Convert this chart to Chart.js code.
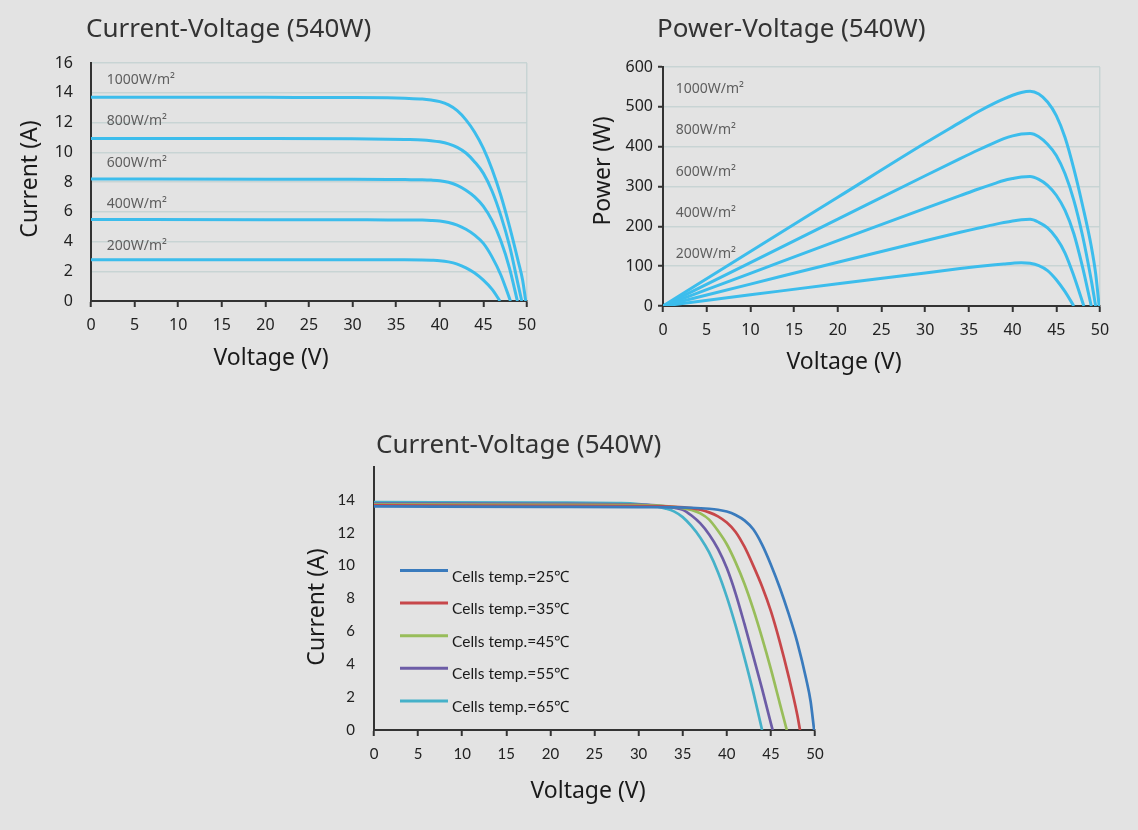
<!DOCTYPE html>
<html>
<head>
<meta charset="utf-8">
<title>540W module curves</title>
<script src="https://cdn.jsdelivr.net/npm/chart.js@4.4.1/dist/chart.umd.min.js"></script>
<style>
  html, body { margin: 0; padding: 0; background: #e3e3e3; }
  body { width: 1138px; height: 830px; position: relative; overflow: hidden; }
  canvas { position: absolute; }
  #ivChart { left: 0; top: 0; }
  #pvChart { left: 565px; top: 0; }
  #tempChart { left: 280px; top: 410px; }
</style>
</head>
<body>
<canvas id="ivChart" width="565" height="390"></canvas>
<canvas id="pvChart" width="573" height="390"></canvas>
<canvas id="tempChart" width="580" height="420"></canvas>
<script>
// irradiance labels shared by the two top charts
const irradianceLabels = ['1000W/m²', '800W/m²', '600W/m²', '400W/m²', '200W/m²'];

// Current-Voltage by irradiance
const ivVolt1000 = [0, 20, 30, 34, 36, 38, 39, 40, 41, 42, 43, 44, 45, 46, 47, 48, 49, 49.5, 49.85];
const ivAmp1000  = [13.7, 13.69, 13.68, 13.66, 13.63, 13.58, 13.51, 13.4, 13.18, 12.8, 12.18, 11.35, 10.26, 8.84, 7.09, 5.0, 2.65, 1.4, 0];
const ivVolt800  = [0, 20, 30, 34, 36, 38, 39, 40, 41, 42, 43, 44, 45, 46, 47, 48, 49, 49.4];
const ivAmp800   = [10.93, 10.92, 10.9, 10.88, 10.86, 10.83, 10.78, 10.7, 10.56, 10.33, 9.95, 9.35, 8.58, 7.38, 5.74, 3.7, 1.05, 0];
const ivVolt600  = [0, 20, 30, 34, 36, 38, 39, 40, 41, 42, 43, 44, 45, 46, 47, 48, 48.9];
const ivAmp600   = [8.2, 8.19, 8.18, 8.17, 8.16, 8.15, 8.13, 8.09, 7.98, 7.78, 7.45, 7.0, 6.36, 5.4, 4.05, 2.2, 0];
const ivVolt400  = [0, 20, 30, 34, 36, 38, 39, 40, 41, 42, 43, 44, 45, 46, 47, 48.1];
const ivAmp400   = [5.48, 5.47, 5.46, 5.45, 5.45, 5.44, 5.42, 5.38, 5.28, 5.1, 4.82, 4.43, 3.87, 2.95, 1.75, 0];
const ivVolt200  = [0, 20, 30, 34, 36, 38, 39, 40, 41, 42, 43, 44, 45, 46, 46.9];
const ivAmp200   = [2.78, 2.78, 2.77, 2.77, 2.77, 2.76, 2.74, 2.71, 2.63, 2.48, 2.23, 1.88, 1.4, 0.78, 0];
const ivLabelAmps = [14.86, 12.1, 9.3, 6.52, 3.72];

// Power-Voltage by irradiance
const pvVolt1000 = [0, 10, 20, 30, 34, 36, 38, 39, 40, 41, 42, 43, 44, 45, 46, 47, 48, 49, 49.5, 49.9];
const pvWatt1000 = [0, 137, 273, 409, 461, 487, 510, 520, 529, 536, 539, 532, 512, 478, 423, 345, 253, 150, 82, 0];
const pvVolt800  = [0, 10, 20, 30, 34, 36, 38, 39, 40, 41, 42, 43, 44, 45, 46, 47, 48, 49, 49.5];
const pvWatt800  = [0, 109, 218, 327, 370, 391, 411, 420, 427, 432, 433, 425, 406, 378, 332, 266, 177, 65, 0];
const pvVolt600  = [0, 10, 20, 30, 34, 36, 38, 39, 40, 41, 42, 43, 44, 45, 46, 47, 48, 49];
const pvWatt600  = [0, 82, 164, 245, 277, 293, 308, 315, 320, 324, 325, 318, 303, 278, 240, 182, 98, 0];
const pvVolt400  = [0, 10, 20, 30, 34, 36, 38, 39, 40, 41, 42, 43, 44, 45, 46, 47, 48.15];
const pvWatt400  = [0, 55, 110, 164, 185, 195, 205, 209.5, 213.5, 216.5, 217.5, 210, 196, 171, 133, 76, 0];
const pvVolt200  = [0, 10, 20, 30, 34, 36, 38, 39, 40, 41, 42, 43, 44, 45, 46, 47];
const pvWatt200  = [0, 28, 56, 83, 94, 99, 103.5, 105.5, 107.5, 108.8, 107.5, 101.5, 89, 66, 36, 0];
const pvLabelWatts = [545, 442, 337, 234, 130];

// Current-Voltage by cell temperature
const tempLabels = ['Cells temp.=25℃', 'Cells temp.=35℃', 'Cells temp.=45℃', 'Cells temp.=55℃', 'Cells temp.=65℃'];
const tVolt25 = [0, 20, 30, 36, 38, 39, 40, 41, 42, 43, 44, 45, 46, 47, 48, 49, 49.5, 49.9];
const tAmp25  = [13.6, 13.58, 13.56, 13.52, 13.46, 13.4, 13.29, 13.08, 12.75, 12.21, 11.28, 10.06, 8.67, 7.09, 5.32, 3.1, 1.75, 0];
const tVolt35 = [0, 20, 30, 34, 36, 37, 38, 39, 40, 41, 42, 43, 44, 45, 46, 47, 48, 48.3];
const tAmp35  = [13.66, 13.64, 13.62, 13.58, 13.5, 13.4, 13.24, 13.0, 12.62, 12.05, 11.15, 10.0, 8.73, 7.23, 5.38, 3.28, 0.9, 0];
const tVolt45 = [0, 20, 30, 33, 35, 36, 37, 38, 39, 40, 41, 42, 43, 44, 45, 46, 46.8];
const tAmp45  = [13.72, 13.7, 13.68, 13.62, 13.5, 13.39, 13.18, 12.8, 12.12, 11.3, 10.2, 8.9, 7.35, 5.6, 3.7, 1.64, 0];
const tVolt55 = [0, 20, 30, 32, 33, 34, 35, 36, 37, 38, 39, 40, 41, 42, 43, 44, 45, 45.2];
const tAmp55  = [13.78, 13.76, 13.72, 13.66, 13.6, 13.52, 13.4, 13.05, 12.57, 11.9, 11.02, 9.85, 8.3, 6.45, 4.5, 2.5, 0.4, 0];
const tVolt65 = [0, 20, 28, 30, 31, 32, 33, 34, 35, 36, 37, 38, 39, 40, 41, 42, 43, 44];
const tAmp65  = [13.86, 13.84, 13.8, 13.75, 13.7, 13.6, 13.48, 13.3, 12.95, 12.4, 11.7, 10.8, 9.6, 8.1, 6.35, 4.4, 2.3, 0];
const tempColors = ['#3a7bbd', '#c7474a', '#98bd5a', '#6c5ca6', '#45b1c9'];

const SKY = '#3cbdec';
const GRID = 'rgba(196,209,209,0.9)';
const AXIS = '#333';

const pts = (xs, ys) => xs.map((x, i) => ({ x: x, y: ys[i] }));

function curve(label, xs, ys, color, width) {
  return {
    label: label,
    data: pts(xs, ys),
    showLine: true,
    borderColor: color,
    backgroundColor: color,
    borderWidth: width,
    pointRadius: 0,
    cubicInterpolationMode: 'monotone'
  };
}

// fixed text: titles and axis titles
function textPlugin(items) {
  return {
    id: 'fixedText',
    afterDraw(chart) {
      const ctx = chart.ctx;
      items.forEach(t => {
        ctx.save();
        ctx.font = t.font;
        ctx.fillStyle = t.color;
        ctx.textAlign = t.align || 'center';
        ctx.textBaseline = 'middle';
        ctx.translate(t.x, t.y);
        if (t.rotate) ctx.rotate(t.rotate);
        ctx.fillText(t.text, 0, 0);
        ctx.restore();
      });
    }
  };
}

// irradiance labels placed in data coordinates
function curveLabels(labels, xVal, yVals) {
  return {
    id: 'curveLabels',
    afterDatasetsDraw(chart) {
      const { ctx, scales } = chart;
      ctx.save();
      ctx.font = '14px "Noto Sans"';
      ctx.fillStyle = '#5e5e5e';
      ctx.textAlign = 'left';
      ctx.textBaseline = 'middle';
      labels.forEach((l, i) => {
        ctx.fillText(l, scales.x.getPixelForValue(xVal), scales.y.getPixelForValue(yVals[i]));
      });
      ctx.restore();
    }
  };
}

function xScale(height, tickFont, withEdge) {
  return {
    type: 'linear', min: 0, max: 50,
    ticks: { stepSize: 5, font: tickFont, color: '#222', padding: 9, maxRotation: 0 },
    grid: {
      color: c => (withEdge && c.tick && c.tick.value === 50) ? GRID : 'transparent',
      lineWidth: 1.5, tickColor: AXIS, tickLength: 6, tickWidth: 2
    },
    border: { color: AXIS, width: 2 },
    afterFit: s => { s.height = height; }
  };
}

const titleFont = '26px "Noto Sans"';
const axisTitleFont = '23px "Noto Sans"';
const topTick = { family: 'Noto Sans', size: 16 };

new Chart(document.getElementById('ivChart'), {
  type: 'scatter',
  data: {
    datasets: [
      curve(irradianceLabels[0], ivVolt1000, ivAmp1000, SKY, 3),
      curve(irradianceLabels[1], ivVolt800, ivAmp800, SKY, 3),
      curve(irradianceLabels[2], ivVolt600, ivAmp600, SKY, 3),
      curve(irradianceLabels[3], ivVolt400, ivAmp400, SKY, 3),
      curve(irradianceLabels[4], ivVolt200, ivAmp200, SKY, 3)
    ]
  },
  options: {
    responsive: false,
    animation: false,
    layout: { padding: { left: 0, top: 63, right: 38, bottom: 0 } },
    plugins: { legend: { display: false }, tooltip: { enabled: false } },
    scales: {
      x: xScale(89, topTick, true),
      y: {
        min: 0, max: 16,
        ticks: { stepSize: 2, font: topTick, color: '#222', padding: 18 },
        grid: { color: c => c.tick && c.tick.value === 0 ? 'transparent' : GRID, lineWidth: 1.5, drawTicks: false },
        border: { color: AXIS, width: 2 },
        afterFit: s => { s.width = 91; }
      }
    }
  },
  plugins: [
    curveLabels(irradianceLabels, 1.8, ivLabelAmps),
    textPlugin([
      { text: 'Current-Voltage (540W)', x: 86, y: 30, font: titleFont, color: '#333', align: 'left' },
      { text: 'Current (A)', x: 30, y: 179, font: axisTitleFont, color: '#1a1a1a', rotate: -Math.PI / 2 },
      { text: 'Voltage (V)', x: 271, y: 358, font: axisTitleFont, color: '#1a1a1a' }
    ])
  ]
});

new Chart(document.getElementById('pvChart'), {
  type: 'scatter',
  data: {
    datasets: [
      curve(irradianceLabels[0], pvVolt1000, pvWatt1000, SKY, 3),
      curve(irradianceLabels[1], pvVolt800, pvWatt800, SKY, 3),
      curve(irradianceLabels[2], pvVolt600, pvWatt600, SKY, 3),
      curve(irradianceLabels[3], pvVolt400, pvWatt400, SKY, 3),
      curve(irradianceLabels[4], pvVolt200, pvWatt200, SKY, 3)
    ]
  },
  options: {
    responsive: false,
    animation: false,
    layout: { padding: { left: 0, top: 67, right: 38, bottom: 0 } },
    plugins: { legend: { display: false }, tooltip: { enabled: false } },
    scales: {
      x: xScale(84, topTick, true),
      y: {
        min: 0, max: 600,
        ticks: { stepSize: 100, font: topTick, color: '#222', padding: 5 },
        grid: {
          color: c => c.tick && c.tick.value === 0 ? 'transparent' : GRID,
          lineWidth: 1.5, tickColor: AXIS, tickLength: 5, tickWidth: 2
        },
        border: { color: AXIS, width: 2 },
        afterFit: s => { s.width = 98; }
      }
    }
  },
  plugins: [
    curveLabels(irradianceLabels, 1.45, pvLabelWatts),
    textPlugin([
      { text: 'Power-Voltage (540W)', x: 92, y: 30, font: titleFont, color: '#333', align: 'left' },
      { text: 'Power (W)', x: 38, y: 171, font: axisTitleFont, color: '#1a1a1a', rotate: -Math.PI / 2 },
      { text: 'Voltage (V)', x: 279, y: 362, font: axisTitleFont, color: '#1a1a1a' }
    ])
  ]
});

// legend drawn inside the plot, as in the datasheet
const tempLegend = {
  id: 'tempLegend',
  afterDraw(chart) {
    const ctx = chart.ctx;
    ctx.save();
    chart.data.datasets.forEach((ds, i) => {
      const y = 160.5 + i * 32.6;
      ctx.strokeStyle = ds.borderColor;
      ctx.lineWidth = 3;
      ctx.beginPath();
      ctx.moveTo(120, y);
      ctx.lineTo(168, y);
      ctx.stroke();
      ctx.font = '15.5px Lato';
      ctx.fillStyle = '#1a1a1a';
      ctx.textAlign = 'left';
      ctx.textBaseline = 'middle';
      ctx.fillText(ds.label, 172, y + 6);
    });
    ctx.restore();
  }
};

const bottomTick = { family: 'Lato', size: 15 };

new Chart(document.getElementById('tempChart'), {
  type: 'scatter',
  data: {
    datasets: [
      curve(tempLabels[0], tVolt25, tAmp25, tempColors[0], 2.7),
      curve(tempLabels[1], tVolt35, tAmp35, tempColors[1], 2.7),
      curve(tempLabels[2], tVolt45, tAmp45, tempColors[2], 2.7),
      curve(tempLabels[3], tVolt55, tAmp55, tempColors[3], 2.7),
      curve(tempLabels[4], tVolt65, tAmp65, tempColors[4], 2.7)
    ]
  },
  options: {
    responsive: false,
    animation: false,
    layout: { padding: { left: 0, top: 57, right: 45, bottom: 0 } },
    plugins: { legend: { display: false }, tooltip: { enabled: false } },
    scales: {
      x: xScale(100, bottomTick, false),
      y: {
        min: 0, max: 16,
        ticks: { stepSize: 2, font: bottomTick, color: '#222', padding: 19, callback: v => v === 16 ? '' : v },
        grid: { color: 'transparent', drawTicks: false },
        border: { color: AXIS, width: 2 },
        afterFit: s => { s.width = 94; }
      }
    }
  },
  plugins: [
    tempLegend,
    textPlugin([
      { text: 'Current-Voltage (540W)', x: 96, y: 36, font: titleFont, color: '#333', align: 'left' },
      { text: 'Current (A)', x: 37, y: 197, font: axisTitleFont, color: '#1a1a1a', rotate: -Math.PI / 2 },
      { text: 'Voltage (V)', x: 308, y: 381, font: axisTitleFont, color: '#1a1a1a' }
    ])
  ]
});
</script>
</body>
</html>
